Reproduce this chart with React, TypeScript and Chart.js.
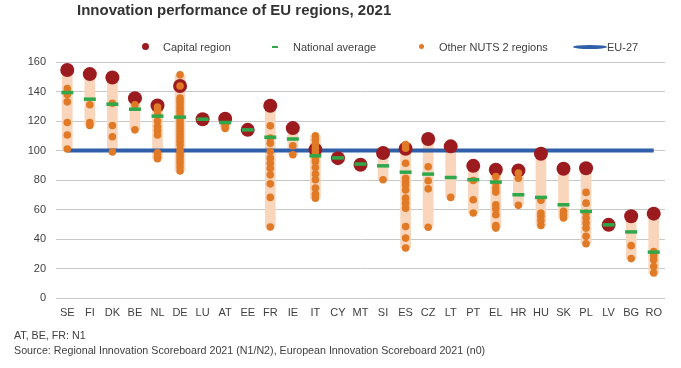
import React, { useEffect, useRef } from "react";
import { Chart, registerables } from "chart.js";

Chart.register(...registerables);

const FONT = '"Liberation Sans", Arial, sans-serif';

const countries = ["SE", "FI", "DK", "BE", "NL", "DE", "LU", "AT", "EE", "FR", "IE", "IT", "CY", "MT", "SI", "ES", "CZ", "LT", "PT", "EL", "HR", "HU", "SK", "PL", "LV", "BG", "RO"];

const capitalValues = [154.6, 151.8, 149.5, 135.5, 130.5, 143.7, 121.2, 121.5, 114, 130.3, 115.2, 100.6, 94.8, 90.3, 98.3, 101.2, 107.8, 102.8, 89.6, 86.9, 86.5, 97.8, 87.6, 88, 49.6, 55.4, 57.2];

const nationalAverages = [139.3, 134.8, 131.4, 128, 123.3, 122.6, 121.2, 119, 114, 109, 107.8, 96.4, 95, 90.8, 89.6, 85.3, 84, 81.7, 80.2, 78.6, 70, 68.2, 63.2, 58.7, 49.6, 44.8, 31.1];

const otherRegions: number[][] = [
  [142, 140, 138, 133, 119, 110.5, 101],
  [131, 119, 117],
  [132, 117, 109.3, 99],
  [131, 114],
  [129.5, 127.5, 124, 120, 116.3, 113.5, 110.5, 98.5, 96, 94.4],
  [151.3, 143.7, 135.5, 133.3, 131, 128.7, 126.5, 124.2, 122, 119.7, 117.4, 115.2, 112.9, 110.7, 108.5, 106.2, 103.9, 100.6, 98.3, 96.1, 93.8, 91.5, 89, 86.1],
  [],
  [117, 115],
  [],
  [116.7, 108.4, 105, 99.3, 94.8, 91.4, 88, 83.5, 77.4, 68.2, 48.1],
  [103.2, 97.1],
  [110, 107.3, 104, 101.5, 99.3, 97, 94.8, 92.5, 88.5, 84, 80.2, 74.5, 70.4, 67.7],
  [],
  [],
  [80.2],
  [104, 101.5, 91.4, 81.2, 79, 76.7, 73.3, 67.7, 64.3, 60.9, 48.5, 40.6, 33.9],
  [89, 79.5, 74, 48],
  [68.2],
  [79.7, 66.6, 57.6],
  [82.4, 78, 74.5, 71.8, 63.2, 60.5, 56.5, 49.2, 47.4],
  [84.7, 81.2, 62.8],
  [66.2, 57.6, 55.4, 52.6, 49.2],
  [58.7, 56.5, 54.2],
  [71.6, 64.3, 57.6, 54.2, 50.8, 47.4, 41.8, 36.8],
  [],
  [35.5, 26.7],
  [31.5, 28.9, 25.9, 21.4, 16.9],
];

const eu27Value = 100;
const yMin = 0;
const yMax = 160;
const yStep = 20;

const titleText = "Innovation performance of EU regions, 2021";
const legendLabels = ["Capital region", "National average", "Other NUTS 2 regions", "EU-27"];
const footnotes = ["AT, BE, FR: N1", "Source: Regional Innovation Scoreboard 2021 (N1/N2), European Innovation Scoreboard 2021 (n0)"];

const C_CAPITAL = "#9b1b1f";
const C_NATIONAL = "#2ea84a";
const C_OTHER = "#e07a26";
const C_EU = "#2f5fa8";
const C_RANGE = "#f8d5bb";
const C_TEXT = "#404040";

export default function App() {
  const ref = useRef<HTMLCanvasElement | null>(null);

  useEffect(() => {
    if (!ref.current) return;
    Chart.defaults.font.family = FONT;
    const ranges = countries.map((_, i) => {
      const all = [capitalValues[i], nationalAverages[i], ...otherRegions[i]];
      return [Math.min(...all), Math.max(...all)];
    });
    const otherPoints = otherRegions.flatMap((vals, i) => vals.map((v) => ({ x: countries[i], y: v })));

    const chart = new Chart(ref.current, {
      type: "bar",
      data: {
        labels: countries,
        datasets: [
          {
            type: "line",
            label: legendLabels[1],
            data: nationalAverages,
            showLine: false,
            pointStyle: "line",
            pointRadius: 6,
            pointBorderWidth: 3.5,
            pointBorderColor: C_NATIONAL,
            pointBackgroundColor: C_NATIONAL,
            order: 0,
            clip: false,
          } as any,
          {
            type: "line",
            label: legendLabels[2],
            data: otherPoints,
            showLine: false,
            pointRadius: 3.8,
            pointBackgroundColor: C_OTHER,
            pointBorderWidth: 0,
            order: 1,
            clip: false,
          } as any,
          {
            type: "line",
            label: legendLabels[0],
            data: capitalValues,
            showLine: false,
            pointRadius: 7,
            pointBackgroundColor: C_CAPITAL,
            pointBorderWidth: 0,
            order: 2,
            clip: false,
          } as any,
          {
            type: "line",
            label: legendLabels[3],
            data: countries.map(() => eu27Value),
            borderColor: C_EU,
            borderWidth: 4,
            pointRadius: 0,
            order: 3,
          } as any,
          {
            type: "bar",
            label: "range",
            data: ranges,
            backgroundColor: C_RANGE,
            barThickness: 10,
            borderWidth: 0,
            order: 4,
          } as any,
        ],
      },
      options: {
        responsive: false,
        animation: false,
        events: [],
        layout: { padding: { left: 0, right: 16, top: 62, bottom: 46 } },
        plugins: { legend: { display: false }, tooltip: { enabled: false } },
        scales: {
          x: {
            grid: { display: false, drawTicks: false },
            border: { display: false },
            ticks: { color: C_TEXT, font: { size: 11 }, padding: 8, autoSkip: false, maxRotation: 0 },
            afterFit: (s: any) => {
              s.height = 24;
            },
          },
          y: {
            min: yMin,
            max: yMax,
            ticks: { stepSize: yStep, color: C_TEXT, font: { size: 11 }, padding: 10 },
            grid: { color: "#c8c8c8", drawTicks: false },
            border: { display: false },
            afterFit: (s: any) => {
              s.width = 56;
            },
          },
        },
      } as any,
    });
    return () => chart.destroy();
  }, []);

  const legendText: React.CSSProperties = {
    position: "absolute",
    top: 41.5,
    fontSize: 11,
    lineHeight: "11px",
    color: C_TEXT,
    whiteSpace: "nowrap",
  };

  return (
    <div style={{ position: "fixed", left: 0, top: 0, width: 681, height: 368, background: "#fff", fontFamily: FONT, overflow: "hidden" }}>
      <canvas ref={ref} width={681} height={368} style={{ position: "absolute", left: 0, top: 0 }} />
      <div style={{ position: "absolute", left: 77, top: 2, fontSize: 15, lineHeight: "15px", fontWeight: "bold", color: "#333", whiteSpace: "nowrap" }}>{titleText}</div>

      <div style={{ position: "absolute", left: 141.5, top: 43.2, width: 7, height: 7, borderRadius: "50%", background: C_CAPITAL }} />
      <div style={{ ...legendText, left: 163 }}>{legendLabels[0]}</div>
      <div style={{ position: "absolute", left: 272, top: 45.5, width: 6, height: 2.5, background: C_NATIONAL }} />
      <div style={{ ...legendText, left: 293 }}>{legendLabels[1]}</div>
      <div style={{ position: "absolute", left: 419.2, top: 44.2, width: 5, height: 5, borderRadius: "50%", background: C_OTHER }} />
      <div style={{ ...legendText, left: 439 }}>{legendLabels[2]}</div>
      <div style={{ position: "absolute", left: 573, top: 44.7, width: 34, height: 4, borderRadius: "50%", background: C_EU }} />
      <div style={{ ...legendText, left: 607 }}>{legendLabels[3]}</div>

      <div style={{ position: "absolute", left: 14, top: 330, fontSize: 10.7, lineHeight: "10.7px", color: C_TEXT, whiteSpace: "nowrap" }}>{footnotes[0]}</div>
      <div style={{ position: "absolute", left: 14, top: 345.3, fontSize: 10.7, lineHeight: "10.7px", color: C_TEXT, whiteSpace: "nowrap" }}>{footnotes[1]}</div>
    </div>
  );
}
